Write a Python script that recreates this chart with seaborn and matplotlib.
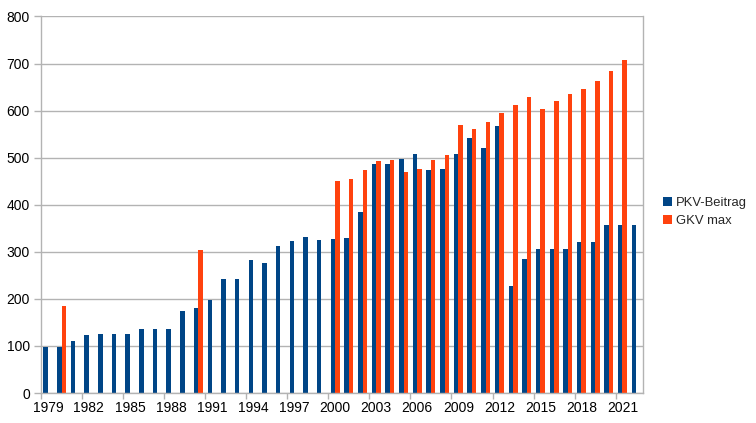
import numpy as np
import pandas as pd
import matplotlib
matplotlib.use("Agg")
import matplotlib.pyplot as plt
from matplotlib.patches import Patch
from matplotlib.ticker import FixedLocator
import seaborn as sns

years = list(range(1979, 2023))
pkv_beitrag = [98, 98, 111, 124, 126, 126, 126, 137, 137, 135,
               175, 180, 197, 242, 242, 283, 276, 313, 322, 332,
               325, 327, 330, 385, 487, 487, 497, 508, 473, 475,
               507, 542, 521, 568, 228, 284, 306, 306, 306, 320,
               320, 357, 357, 357]
nan = np.nan
gkv_max = [nan, 185, nan, nan, nan, nan, nan, nan, nan, nan,
           nan, 303, nan, nan, nan, nan, nan, nan, nan, nan,
           nan, 450, 455, 474, 494, 496, 470, 475, 496, 505,
           570, 560, 576, 594, 611, 629, 603, 620, 636, 647,
           664, 685, 707, nan]
series_names = ["PKV-Beitrag", "GKV max"]
colors = ["#004586", "#ff420e"]

sns.set_theme(style="white")
plt.rcParams['font.family'] = ['Liberation Sans', 'DejaVu Sans']

df = pd.DataFrame({
    "Jahr": [str(y) for y in years] * 2,
    "Wert": pkv_beitrag + gkv_max,
    "Serie": [series_names[0]] * len(years) + [series_names[1]] * len(years),
}).dropna()

fig = plt.figure(figsize=(7.56, 4.23), dpi=100)
ax = fig.add_axes([41/756, 1 - 393/423, (643 - 41)/756, (393 - 16.5)/423])

sns.barplot(data=df, x="Jahr", y="Wert", hue="Serie",
            order=[str(y) for y in years], hue_order=series_names,
            palette=colors, width=0.66, dodge=True, ax=ax,
            saturation=1, legend=False, linewidth=0, errorbar=None)

ax.set_xlim(-0.5, len(years) - 0.5)
ax.set_ylim(0, 800)
ax.set_yticks(range(0, 801, 100))
ax.grid(axis="y", color="#b3b3b3", linewidth=1)
ax.set_axisbelow(True)
ax.set_xlabel("")
ax.set_ylabel("")

# x ticks: marks at category boundaries, labels at category centers
ax.xaxis.set_major_locator(FixedLocator([i - 0.5 for i in range(0, len(years), 3)]))
ax.xaxis.set_major_formatter(matplotlib.ticker.NullFormatter())
label_idx = list(range(0, len(years), 3))
ax.xaxis.set_minor_locator(FixedLocator(label_idx))
ax.xaxis.set_minor_formatter(matplotlib.ticker.FixedFormatter([str(years[i]) for i in label_idx]))
ax.tick_params(axis="x", which="major", length=4, width=1, color="#b3b3b3", direction="out", bottom=True)
ax.tick_params(axis="x", which="minor", length=0, labelsize=10, labelcolor="black", pad=6, bottom=True)
ax.tick_params(axis="y", length=5, width=1, color="#b3b3b3", direction="out", left=True, labelsize=10, labelcolor="black", pad=3)

for s in ax.spines.values():
    s.set_color("#b3b3b3")
    s.set_linewidth(1)
ax.spines["top"].set_visible(False)

handles = [Patch(facecolor=c, edgecolor="none", label=n) for c, n in zip(colors, series_names)]
fig.legend(handles=handles, loc="center left", bbox_to_anchor=(656/756, 1 - 212/423),
           frameon=False, fontsize=9.4, handlelength=0.7, handleheight=0.7,
           handletextpad=0.3, labelspacing=0.45, borderpad=0)

fig.savefig("out.png", dpi=100)
